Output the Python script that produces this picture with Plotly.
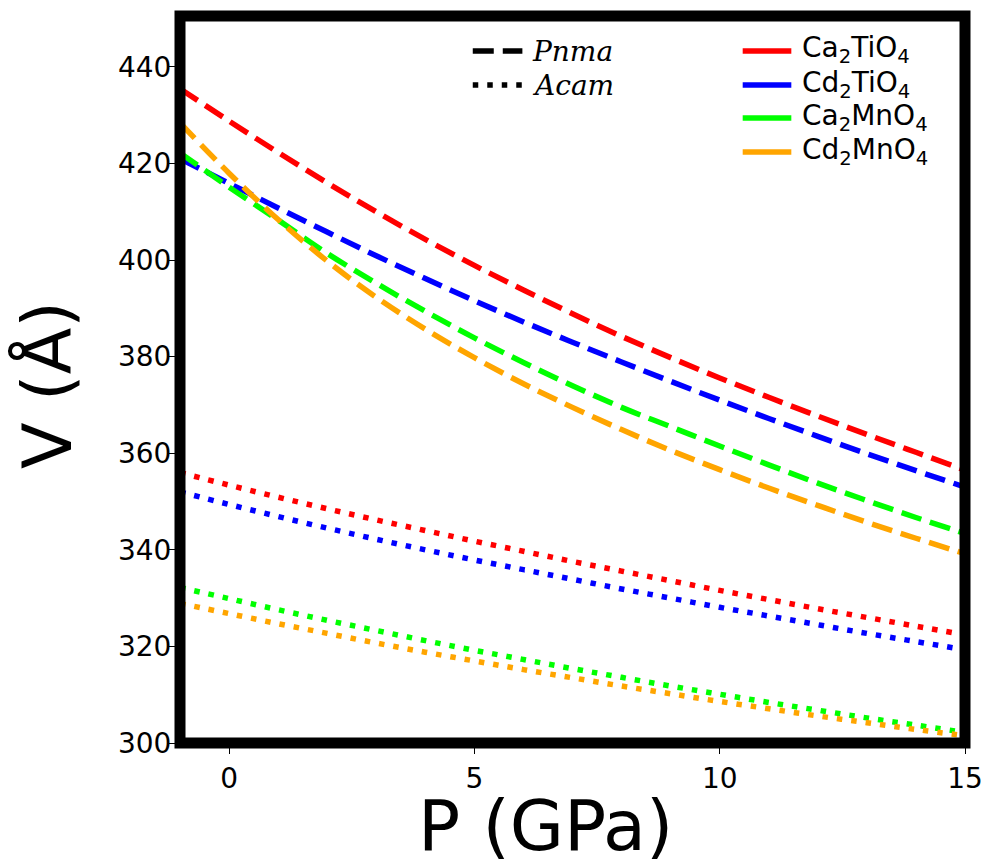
import plotly.graph_objects as go

# ---------------- data ----------------
pressure = [-1, 0, 1, 2, 3, 4, 5, 6, 7, 8, 9, 10, 11, 12, 13, 14, 15]

ca2tio4_pnma = [435.5, 428.8, 422.3, 416.0, 410.0, 404.3, 398.9, 393.8, 388.9,
                384.2, 379.8, 375.6, 371.6, 367.7, 363.9, 360.2, 356.5]
cd2tio4_pnma = [421.0, 415.9, 410.8, 405.8, 400.9, 396.2, 391.6, 387.2, 383.0,
                378.9, 374.9, 371.0, 367.2, 363.5, 359.9, 356.4, 353.0]
ca2mno4_pnma = [422.2, 415.1, 408.3, 401.4, 395.2, 389.4, 383.9, 378.8, 374.0,
                369.5, 365.5, 361.5, 357.6, 353.8, 350.2, 346.7, 343.4]
cd2mno4_pnma = [428.4, 418.0, 408.4, 399.8, 392.3, 385.7, 379.8, 374.4, 369.5,
                364.9, 360.6, 356.6, 352.8, 349.2, 345.7, 342.4, 339.2]

ca2tio4_acam = [356.0, 353.4, 350.9, 348.5, 346.2, 344.0, 341.8, 339.7, 337.6,
                335.6, 333.6, 331.6, 329.7, 327.8, 326.0, 324.2, 322.4]
cd2tio4_acam = [352.0, 349.4, 346.9, 344.5, 342.2, 340.0, 337.9, 335.9, 333.9,
                331.9, 330.0, 328.1, 326.3, 324.5, 322.7, 321.0, 319.3]
ca2mno4_acam = [332.2, 329.9, 327.6, 325.4, 323.3, 321.2, 319.2, 317.3, 315.4,
                313.6, 311.8, 310.1, 308.4, 306.8, 305.2, 303.7, 302.2]
cd2mno4_acam = [328.9, 326.8, 324.7, 322.7, 320.7, 318.8, 317.0, 315.2, 313.5,
                311.8, 310.2, 308.6, 307.1, 305.6, 304.2, 302.8, 301.5]

compound_labels = ["Ca<sub>2</sub>TiO<sub>4</sub>", "Cd<sub>2</sub>TiO<sub>4</sub>",
                   "Ca<sub>2</sub>MnO<sub>4</sub>", "Cd<sub>2</sub>MnO<sub>4</sub>"]
compound_colors = ["#ff0000", "#0000ff", "#00ff00", "#ffa500"]
phase_labels = ["<i>Pnma</i>", "<i>Acam</i>"]

x_ticks = [0, 5, 10, 15]
y_ticks = [300, 320, 340, 360, 380, 400, 420, 440]

pnma_series = [ca2tio4_pnma, cd2tio4_pnma, ca2mno4_pnma, cd2mno4_pnma]
acam_series = [ca2tio4_acam, cd2tio4_acam, ca2mno4_acam, cd2mno4_acam]

# ---------------- styles ----------------
LW = 5.5
DASH = "21px,9px"
DOT = "5.5px,9px"
FONT = "DejaVu Sans"

fig = go.Figure()
for lab, col, pn, ac in zip(compound_labels, compound_colors, pnma_series, acam_series):
    fig.add_trace(go.Scatter(x=pressure, y=pn, mode="lines", name=lab + " Pnma",
                             line=dict(color=col, width=LW, dash=DASH, shape="spline"),
                             showlegend=False))
    fig.add_trace(go.Scatter(x=pressure, y=ac, mode="lines", name=lab + " Acam",
                             line=dict(color=col, width=LW, dash=DOT, shape="spline"),
                             showlegend=False))

# plot area in pixels
L, R, T, B = 180, 971, 16, 743
W, H = 995, 861


def px(xp):
    return (xp - L) / (R - L)


def py(yp):
    return (B - yp) / (B - T)


# frame (thick spines)
fig.add_shape(type="rect", xref="paper", yref="paper", x0=0, x1=1, y0=0, y1=1,
              line=dict(color="black", width=11), layer="above")

# manual legends
phase_rows = [51, 85]
for lab, dash, yy in zip(phase_labels, [DASH, DOT], phase_rows):
    fig.add_shape(type="line", xref="paper", yref="paper",
                  x0=px(475), x1=px(525), y0=py(yy), y1=py(yy),
                  line=dict(color="black", width=LW, dash=dash))
    fig.add_annotation(text=lab, xref="paper", yref="paper", x=px(533), y=py(yy),
                       xanchor="left", yanchor="middle", showarrow=False,
                       font=dict(family="DejaVu Serif", size=28, color="black"))

comp_rows = [51, 85, 118, 152]
for lab, col, yy in zip(compound_labels, compound_colors, comp_rows):
    fig.add_shape(type="line", xref="paper", yref="paper",
                  x0=px(747), x1=px(796), y0=py(yy), y1=py(yy),
                  line=dict(color=col, width=LW))
    fig.add_annotation(text=lab, xref="paper", yref="paper", x=px(805), y=py(yy - 1),
                       xanchor="left", yanchor="middle", showarrow=False,
                       font=dict(family=FONT, size=28, color="black"))

# axis titles
fig.add_annotation(text="P (GPa)", xref="paper", yref="paper", x=px(548), y=py(826),
                   xanchor="center", yanchor="middle", showarrow=False,
                   font=dict(family=FONT, size=70, color="black"))
fig.add_annotation(text="V (Å)", xref="paper", yref="paper", x=px(46), y=py(385),
                   xanchor="center", yanchor="middle", showarrow=False, textangle=-90,
                   font=dict(family=FONT, size=68, color="black"))

fig.update_xaxes(range=[-1, 15], tickvals=x_ticks, ticktext=[str(v) for v in x_ticks],
                 ticks="outside", ticklen=10, tickwidth=1.3, tickcolor="black",
                 showgrid=False, zeroline=False, showline=False,
                 tickfont=dict(family=FONT, size=28, color="black"))
fig.update_yaxes(range=[300, 300 + (B - T) / 4.829], tickvals=y_ticks,
                 ticktext=[str(v) for v in y_ticks],
                 ticks="outside", ticklen=10, tickwidth=1.3, tickcolor="black",
                 ticklabelstandoff=-8,
                 showgrid=False, zeroline=False, showline=False,
                 tickfont=dict(family=FONT, size=28, color="black"))

fig.update_layout(width=W, height=H, margin=dict(l=L, r=W - R, t=T, b=H - B, pad=0),
                  plot_bgcolor="white", paper_bgcolor="white", showlegend=False,
                  font=dict(family=FONT, color="black"))

fig.write_html("out.html")
